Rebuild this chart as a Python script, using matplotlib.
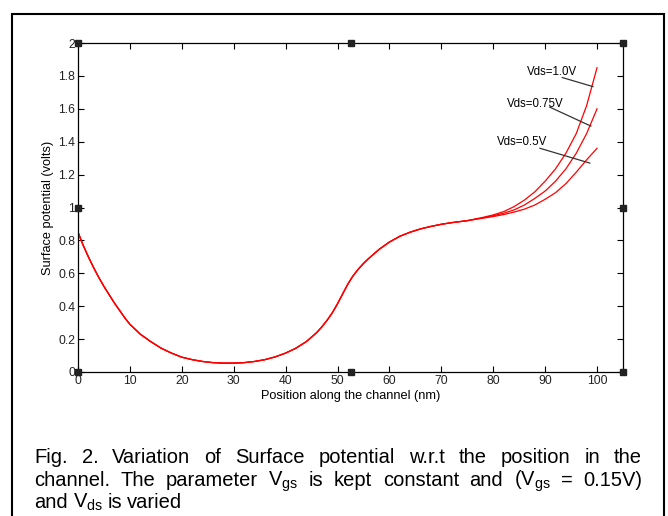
import matplotlib.pyplot as plt
from matplotlib.patches import Rectangle

plt.rcParams['font.family'] = ['Liberation Sans', 'DejaVu Sans']
plt.rcParams['mathtext.fontset'] = 'custom'
plt.rcParams['mathtext.rm'] = 'Liberation Sans'
plt.rcParams['mathtext.it'] = 'Liberation Sans:italic'

# common part of the curve (all Vds overlap here)
x_left = [0, 1, 2, 3, 4, 5, 6, 7, 8, 9, 10, 12, 14, 16, 18, 20, 22, 24, 26, 28,
          30, 32, 34, 36, 38, 40, 42, 44, 46, 47, 48, 49, 50, 51, 52, 53, 54, 55,
          56, 58, 60, 62, 64, 66, 68, 70, 72]
y_left = [0.85, 0.77, 0.70, 0.635, 0.575, 0.52, 0.47, 0.42, 0.375, 0.33, 0.29,
          0.23, 0.185, 0.145, 0.115, 0.09, 0.075, 0.064, 0.057, 0.054,
          0.054, 0.057, 0.064, 0.075, 0.092, 0.115, 0.145, 0.185, 0.24, 0.275,
          0.315, 0.36, 0.415, 0.475, 0.535, 0.585, 0.625, 0.66,
          0.69, 0.745, 0.79, 0.825, 0.85, 0.87, 0.885, 0.898, 0.908]

# drain end, one series per Vds
x_right = [75, 78, 80, 82, 84, 86, 88, 90, 92, 94, 96, 98, 100]
vds_10 = [0.92, 0.94, 0.955, 0.975, 1.005, 1.045, 1.095, 1.16, 1.235, 1.33, 1.45, 1.62, 1.85]
vds_075 = [0.92, 0.937, 0.95, 0.965, 0.985, 1.015, 1.055, 1.10, 1.16, 1.235, 1.33, 1.45, 1.60]
vds_05 = [0.92, 0.935, 0.945, 0.957, 0.972, 0.99, 1.015, 1.05, 1.09, 1.145, 1.215, 1.29, 1.36]

labels = ['Vds=1.0V', 'Vds=0.75V', 'Vds=0.5V']
label_text_pos = [(86.5, 1.825), (82.7, 1.63), (80.7, 1.40)]
label_line = [((93.3, 1.79), (99.2, 1.735)),
              ((90.9, 1.61), (98.8, 1.495)),
              ((89.0, 1.36), (98.6, 1.27))]

caption_lines = [
    'Fig. 2. Variation of Surface potential w.r.t the position in the',
    r'channel. The parameter $\mathrm{V_{gs}}$ is kept constant and ($\mathrm{V_{gs}}$ = 0.15V)',
    r'and $\mathrm{V_{ds}}$ is varied',
]

W, H = 668, 516
fig = plt.figure(figsize=(W / 100, H / 100), dpi=100)
fig.patches.append(Rectangle((11.5 / W, -0.01), 652 / W, 1 - 14 / H + 0.01,
                             transform=fig.transFigure, fill=False,
                             edgecolor='black', linewidth=1.5))

ax = fig.add_axes([78 / W, 1 - 372 / H, 545 / W, 329 / H])
for series in [vds_10, vds_075, vds_05]:
    ax.plot(x_left + x_right, y_left + series, color='red', linewidth=0.9)

for lab, tp, (p0, p1) in zip(labels, label_text_pos, label_line):
    ax.text(tp[0], tp[1], lab, fontsize=8.3, va='center', ha='left')
    ax.plot([p0[0], p1[0]], [p0[1], p1[1]], color='#333333', linewidth=0.9)

ax.set_xlim(0, 105)
ax.set_ylim(0, 2)
ax.set_xticks(range(0, 101, 10))
ax.set_yticks([0, 0.2, 0.4, 0.6, 0.8, 1, 1.2, 1.4, 1.6, 1.8, 2])
ax.set_yticklabels(['0', '0.2', '0.4', '0.6', '0.8', '1', '1.2', '1.4', '1.6', '1.8', '2'])
ax.tick_params(direction='in', top=True, right=True, length=4, labelsize=8.7,
               pad=2, labelcolor='#222222')
for s in ax.spines.values():
    s.set_linewidth(0.9)
ax.set_xlabel('Position along the channel (nm)', fontsize=9.2, labelpad=2)
ax.set_ylabel('Surface potential (volts)', fontsize=9.2, labelpad=3)

# selection handles
hx = [0, 0.5, 1, 0, 1, 0, 0.5, 1]
hy = [0, 0, 0, 0.5, 0.5, 1, 1, 1]
ax.plot(hx, hy, 's', color='#222222', markersize=5, transform=ax.transAxes,
        clip_on=False, linestyle='none', zorder=5)

# justified caption
renderer = fig.canvas.get_renderer()
x0, x1 = 34, 642
baselines = [463, 486, 508]
for i, (line, yb) in enumerate(zip(caption_lines, baselines)):
    words = []
    buf = ''
    in_math = False
    for ch in line:
        if ch == '$':
            in_math = not in_math
        if ch == ' ' and not in_math:
            words.append(buf)
            buf = ''
        else:
            buf += ch
    words.append(buf)
    texts = [fig.text(0, 1 - yb / H, w, fontsize=14.5, va='baseline', ha='left')
             for w in words]
    widths = [t.get_window_extent(renderer).width for t in texts]
    if i < len(caption_lines) - 1:
        gap = (x1 - x0 - sum(widths)) / (len(words) - 1)
    else:
        gap = 5
    xp = x0
    for t, w in zip(texts, widths):
        t.set_x(xp / W)
        xp += w + gap

fig.savefig('out.png', dpi=100)
